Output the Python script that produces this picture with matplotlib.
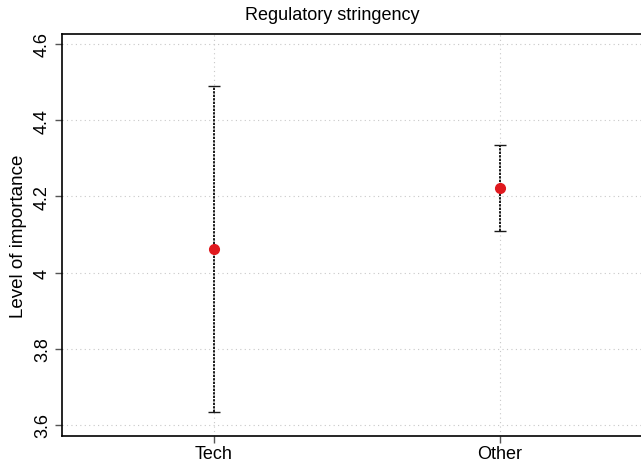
import matplotlib.pyplot as plt

# Data
categories = ['Tech', 'Other']
means = [4.061, 4.221]
upper = [4.490, 4.336]
lower = [3.633, 4.108]

plt.rcParams['font.family'] = ['Liberation Sans', 'DejaVu Sans']

fig = plt.figure(figsize=(6.41, 4.64), dpi=100)
ax = fig.add_axes([62 / 641, 1 - 437 / 464, 579 / 641, 402 / 464])

x = list(range(1, len(categories) + 1))
err_low = [m - l for m, l in zip(means, lower)]
err_high = [u - m for m, u in zip(means, upper)]

eb = ax.errorbar(x, means, yerr=[err_low, err_high], fmt='o', color='#e0191e',
                 markersize=7, ecolor='#1a1a1a', elinewidth=1.4, capsize=4,
                 capthick=1.0, zorder=3)
eb[2][0].set_linestyle((0, (1.2, 0.6)))

ax.set_xlim(0.4685, 2.493)
ax.set_ylim(3.571, 4.626)
ax.set_xticks(x)
ax.set_xticklabels(categories, fontsize=13)
ax.set_yticks([3.6, 3.8, 4.0, 4.2, 4.4, 4.6])
ax.set_yticklabels(['3.6', '3.8', '4', '4.2', '4.4', '4.6'], fontsize=13,
                   rotation=90, va='center')
ax.set_ylabel('Level of importance', fontsize=13.5, labelpad=5)

ax.grid(True, linestyle=(0, (1, 3)), color='#c8c8c8', linewidth=0.8)
ax.set_axisbelow(True)
ax.spines['right'].set_visible(False)
for s in ['left', 'top', 'bottom']:
    ax.spines[s].set_linewidth(1.2)
ax.tick_params(axis='both', length=5, width=1.0, color='#555555', direction='out')
ax.tick_params(axis='y', pad=3)
ax.tick_params(axis='x', pad=1.5)

fig.text(332 / 641, 1 - 16 / 464, 'Regulatory stringency', fontsize=13,
         ha='center', va='center')

fig.savefig('out.png', dpi=100)
